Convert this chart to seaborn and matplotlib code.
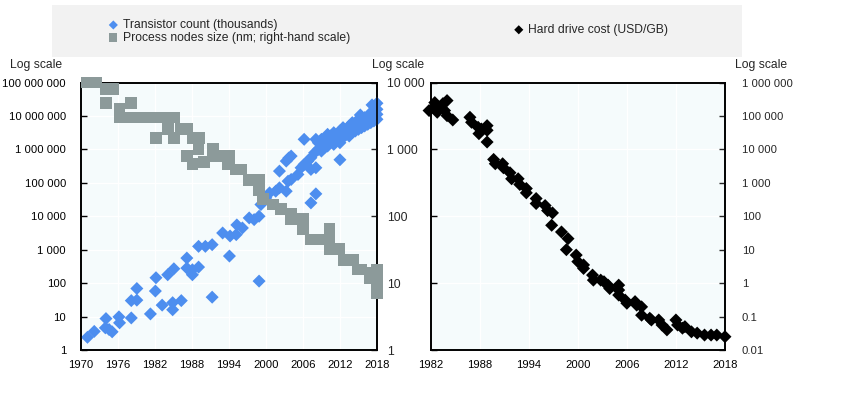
import matplotlib
matplotlib.use("Agg")
import matplotlib.pyplot as plt
import seaborn as sns
from matplotlib.ticker import FixedLocator, FuncFormatter, NullLocator
from matplotlib.patches import Rectangle

# ---------------- data ----------------
tr_years = [1971.1, 1972.2, 1974.0, 1974.6, 1975.1, 1974.1, 1976.2, 1976.3, 1978.2, 1978.2,
            1979.1, 1979.1, 1981.3, 1982.1, 1982.2, 1983.2, 1984.1, 1985.1, 1984.9, 1984.9,
            1986.3, 1987.2, 1987.2, 1988.1, 1988.1, 1989.1, 1989.1, 1990.2, 1991.3, 1991.3,
            1993.0, 1994.2, 1994.1, 1995.3, 1995.2, 1996.2, 1997.3, 1998.1, 1998.9, 1999.2,
            1998.9, 2000.0, 2000.6, 2001.6, 2002.2, 2003.3, 2003.6, 2004.1, 2002.2, 2003.3,
            2004.1, 2003.7, 2005.2, 2005.7, 2006.2, 2006.8, 2007.3, 2007.9, 2006.2, 2008.1,
            2007.3, 2008.1, 2007.3, 2008.1, 2012.0,
            2008.5, 2008.5, 2009.0, 2009.0, 2009.0, 2009.5, 2009.5, 2010.0, 2010.0, 2010.0,
            2010.5, 2010.5, 2011.0, 2011.0, 2011.0, 2011.5, 2011.5, 2012.0, 2012.0, 2012.0,
            2012.5, 2012.5, 2012.5, 2013.0, 2013.0, 2013.5, 2013.5, 2013.5, 2014.0, 2014.0,
            2014.0, 2014.5, 2014.5, 2015.0, 2015.0, 2015.0, 2015.3, 2015.5, 2015.5, 2016.0,
            2016.0, 2016.0, 2016.5, 2016.5, 2017.0, 2017.0, 2017.0, 2017.2, 2017.5, 2017.5,
            2018.0, 2018.0, 2018.0, 2018.0]
tr_thousands = [2.4, 3.6, 4.6, 4.1, 3.5, 8.7, 9.8, 6.5, 30, 9.1,
                31, 69, 12, 58, 145, 22, 178, 269, 26, 16,
                30, 562, 282, 178, 251, 302, 1259, 1259, 1413, 38,
                3162, 2570, 646, 5500, 2818, 4467, 8913, 7943, 10000, 22400,
                115, 35500, 50100, 56200, 70800, 56200, 112000, 126000, 224000, 447000,
                631000, 550000, 178000, 282000, 355000, 447000, 562000, 794000, 2000000, 2000000,
                251000, 282000, 25100, 46800, 490000,
                1000000, 1580000, 1260000, 891000, 2000000, 1580000, 1120000, 2000000, 1260000, 2820000,
                1780000, 2510000, 2240000, 1410000, 3160000, 2820000, 2000000, 2510000, 3550000, 1580000,
                3160000, 2240000, 4470000, 3980000, 2820000, 3550000, 5010000, 2510000, 4470000, 6310000,
                3160000, 5010000, 3550000, 5620000, 7940000, 3980000, 10700000, 6310000, 4470000, 7080000,
                8910000, 5010000, 7940000, 5620000, 8910000, 12600000, 6310000, 21400000, 10000000, 7080000,
                24000000, 11200000, 7940000, 15800000]

pn_years = [1971.0, 1972.5, 1974.1, 1975.2, 1974.1, 1976.3, 1976.3, 1978.2, 1978.2, 1979.2,
            1981.1, 1982.5, 1983.3, 1982.2, 1984.1, 1985.1, 1985.1, 1986.3, 1987.3, 1988.1,
            1989.2, 1989.1, 1987.2, 1988.1, 1990.0, 1991.4, 1991.4, 1993.0, 1993.8, 1994.1,
            1994.1, 1995.2, 1996.0, 1997.3, 1998.9, 1998.9, 1999.5, 2001.1, 2002.4, 2004.1,
            2004.1, 2006.0, 2006.0, 2007.3, 2008.7, 2010.3, 2010.3, 2010.3, 2011.9, 2012.7,
            2014.1, 2014.9, 2015.4, 2016.8, 2016.8, 2018.0, 2018.0, 2018.0, 2018.0]
pn_nm = [10000, 10000, 8000, 8000, 5000, 4000, 3000, 5000, 3000, 3000,
         3000, 3000, 3000, 1500, 2000, 3000, 1500, 2000, 2000, 1500,
         1500, 1000, 800, 600, 650, 1000, 800, 800, 600, 800,
         600, 500, 500, 350, 350, 250, 180, 150, 130, 110,
         90, 90, 65, 45, 45, 65, 45, 32, 32, 22,
         22, 16, 16, 12, 14, 16, 12, 10, 7]

hd_years = [1981.8, 1982.5, 1982.7, 1982.8, 1983.5, 1983.7, 1984.0, 1984.0, 1984.7, 1986.8,
            1987.0, 1987.8, 1987.9, 1988.2, 1988.9, 1988.9, 1988.9, 1989.7, 1989.9, 1990.8,
            1990.9, 1991.7, 1991.9, 1992.7, 1992.9, 1993.7, 1993.7, 1994.9, 1994.9, 1996.0,
            1996.3, 1996.9, 1996.8, 1998.0, 1998.8, 1998.6, 1999.8, 2000.0, 2000.7, 2000.7,
            2001.8, 2001.9, 2002.8, 2003.2, 2003.7, 2003.9, 2005.0, 2005.0, 2005.0, 2005.8,
            2006.0, 2007.0, 2007.2, 2007.8, 2007.8, 2008.8, 2009.0, 2009.9, 2010.3, 2010.9,
            2012.0, 2012.2, 2012.8, 2013.1, 2013.9, 2014.6, 2015.5, 2016.3, 2017.0, 2018.0]
hd_usd_gb = [145000, 251000, 182000, 129000, 234000, 145000, 288000, 102000, 75900, 91200,
             64600, 45700, 29500, 40700, 51300, 37200, 16600, 5010, 3720, 3720,
             2820, 2000, 1320, 1320, 891, 676, 501, 339, 240, 209,
             148, 126, 53.7, 33.9, 21.4, 10, 6.9, 4.4, 3.5, 2.75,
             1.74, 1.23, 1.23, 1.10, 0.87, 0.69, 0.87, 0.62, 0.44, 0.31,
             0.25, 0.28, 0.22, 0.195, 0.11, 0.089, 0.079, 0.079, 0.056, 0.040,
             0.079, 0.056, 0.045, 0.050, 0.035, 0.032, 0.028, 0.028, 0.028, 0.025]

left_xticks = [1970, 1976, 1982, 1988, 1994, 2000, 2006, 2012, 2018]
right_xticks = [1982, 1988, 1994, 2000, 2006, 2012, 2018]
left_yticks = [1, 10, 100, 1e3, 1e4, 1e5, 1e6, 1e7, 1e8]
node_yticks = [1, 10, 100, 1e3, 1e4]
hd_yticks = [0.01, 0.1, 1, 10, 100, 1e3, 1e4, 1e5, 1e6]

label_tr = "Transistor count (thousands)"
label_pn = "Process nodes size (nm; right-hand scale)"
label_hd = "Hard drive cost (USD/GB)"

# ---------------- style ----------------
sns.set_theme(style="white")
plt.rcParams["font.family"] = ["Liberation Sans", "DejaVu Sans"]
FS = 8.1
FS_LEG = 8.7
BLUE = "#4d8eef"
GRAY = "#8c9a9a"
BLACK = "#000000"
BG = "#f5fbfc"


def fmt(v, pos):
    if v >= 1:
        return f"{v:,.0f}".replace(",", " ")
    return f"{v:g}"


fig = plt.figure(figsize=(8.5, 3.99), dpi=100)
fig.patches.append(Rectangle((0.0612, 0.857), 0.8118, 0.130, transform=fig.transFigure,
                             facecolor="#f2f2f2", edgecolor="none", zorder=0))

BOX1 = [0.0949, 0.1228, 0.3486, 0.6704]
BOX2 = [0.5067, 0.1228, 0.3462, 0.6704]


def style_base(ax, xticks, yticks):
    ax.set_facecolor(BG)
    ax.set_yscale("log")
    ax.set_xticks(xticks)
    ax.yaxis.set_major_locator(FixedLocator(yticks))
    ax.yaxis.set_minor_locator(NullLocator())
    ax.yaxis.set_major_formatter(FuncFormatter(fmt))
    ax.grid(True, color="white", linewidth=1.0)
    for s in ax.spines.values():
        s.set_color("black")
        s.set_linewidth(1.2)
    ax.tick_params(axis="both", direction="in", length=4, width=1, colors="black",
                   labelsize=FS, labelcolor="black")
    ax.tick_params(axis="x", pad=7)
    ax.tick_params(axis="y", pad=10.5)


# ---- left panel ----
ax1 = fig.add_axes(BOX1)
sns.scatterplot(x=tr_years, y=tr_thousands, ax=ax1, marker="D", s=44, color=BLUE,
                edgecolor="none", linewidth=0, clip_on=False, label=label_tr, zorder=3)
style_base(ax1, left_xticks, left_yticks)
ax1.set_xlim(1970, 2018)
ax1.set_ylim(1, 1e8)

ax1b = ax1.twinx()
sns.scatterplot(x=pn_years, y=pn_nm, ax=ax1b, marker="s", s=72, color=GRAY,
                edgecolor="none", linewidth=0, clip_on=False, label=label_pn, zorder=3)
ax1b.set_yscale("log")
ax1b.set_ylim(1, 1e4)
ax1b.yaxis.set_major_locator(FixedLocator(node_yticks))
ax1b.yaxis.set_minor_locator(NullLocator())
ax1b.yaxis.set_major_formatter(FuncFormatter(fmt))
ax1b.tick_params(axis="y", direction="in", length=4, width=1, labelsize=8.8, pad=7)
ax1b.set_xlim(1970, 2018)
for s in ax1b.spines.values():
    s.set_color("black")
    s.set_linewidth(1.2)

# ---- right panel ----
ax2 = fig.add_axes(BOX2)
style_base(ax2, right_xticks, node_yticks)
ax2.set_ylim(1, 1e4)
ax2.set_xlim(1982, 2018)
ax2.tick_params(axis="y", labelleft=False)

ax2b = ax2.twinx()
sns.scatterplot(x=hd_years, y=hd_usd_gb, ax=ax2b, marker="D", s=44, color=BLACK,
                edgecolor="none", linewidth=0, clip_on=False, label=label_hd, zorder=3)
ax2b.set_yscale("log")
ax2b.set_ylim(0.01, 1e6)
ax2b.set_xlim(1982, 2018)
ax2b.yaxis.set_major_locator(FixedLocator(hd_yticks))
ax2b.yaxis.set_minor_locator(NullLocator())
ax2b.yaxis.set_major_formatter(FuncFormatter(fmt))
ax2b.tick_params(axis="y", direction="in", length=4, width=1, labelsize=FS, pad=12)
for s in ax2b.spines.values():
    s.set_color("black")
    s.set_linewidth(1.2)

for a in (ax1, ax1b, ax2, ax2b):
    a.set_xlabel("")
    a.set_ylabel("")
    if a.get_legend() is not None:
        a.get_legend().remove()

# ---- legends ----
h1, l1 = ax1.get_legend_handles_labels()
h2, l2 = ax1b.get_legend_handles_labels()
h3, l3 = ax2b.get_legend_handles_labels()
fig.legend(h1 + h2, l1 + l2, loc="upper left", bbox_to_anchor=(0.128, 0.952),
           frameon=False, fontsize=FS_LEG, handlelength=0.75, handletextpad=0.4,
           labelspacing=0.05, borderpad=0, borderaxespad=0, markerscale=0.7)
fig.legend(h3, l3, loc="upper left", bbox_to_anchor=(0.605, 0.940),
           frameon=False, fontsize=FS_LEG, handlelength=0.75, handletextpad=0.4,
           borderpad=0, borderaxespad=0, markerscale=0.7)

# ---- "Log scale" labels ----
y_ls = 1 - 65 / 399
fig.text(10 / 850, y_ls, "Log scale", fontsize=FS_LEG, va="center", ha="left")
fig.text(372 / 850, y_ls, "Log scale", fontsize=FS_LEG, va="center", ha="left")
fig.text(735 / 850, y_ls, "Log scale", fontsize=FS_LEG, va="center", ha="left")

fig.savefig("out.png", dpi=100)
